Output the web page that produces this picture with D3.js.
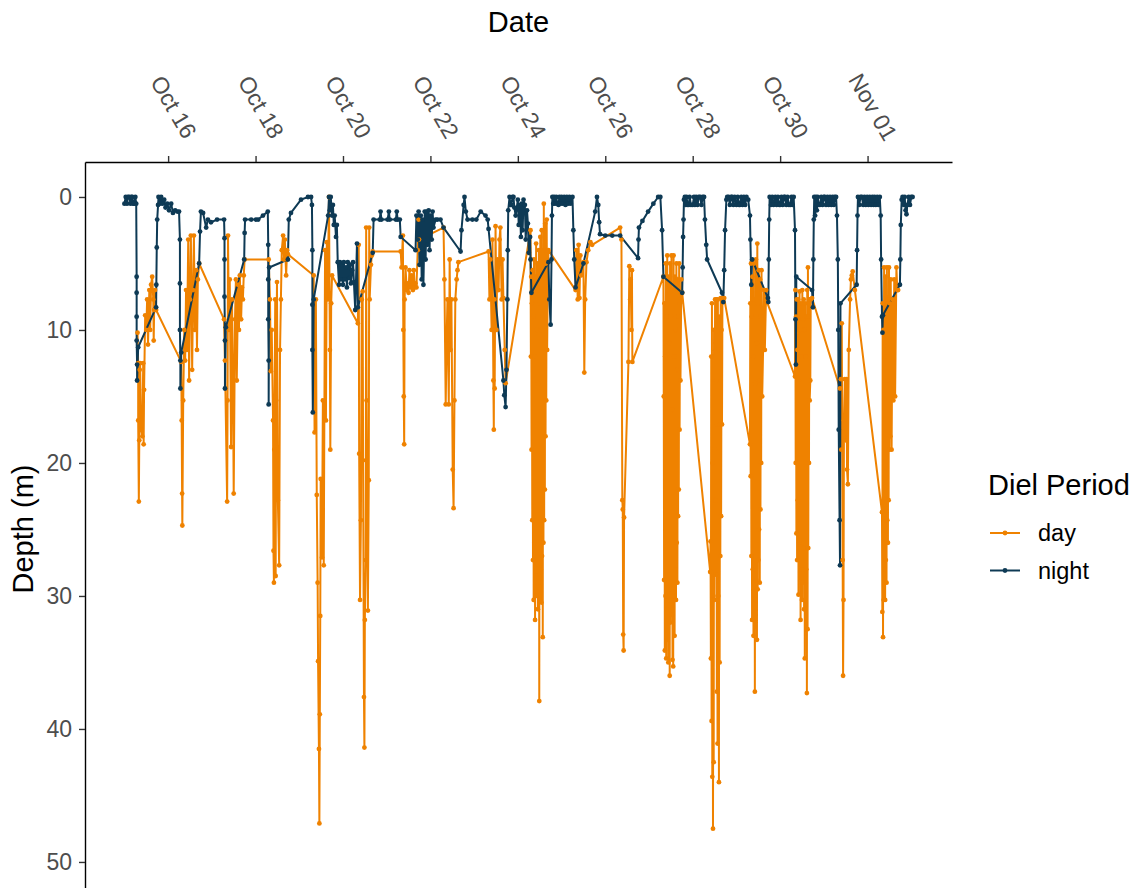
<!DOCTYPE html>
<html>
<head>
<meta charset="utf-8">
<script src="https://cdn.jsdelivr.net/npm/d3@7"></script>
<style>
  body { margin: 0; background: #fff; }
  svg text { font-family: "Liberation Sans", Arial, sans-serif; }
</style>
</head>
<body>
<svg id="chart" width="1147" height="888"></svg>
<script>
// observations: [days elapsed since Oct 15 00:00 UTC, depth in m]
const dayObs = [
  [0.30,10.2],[0.315,12.5],[0.315,16.8],[0.33,22.9],[0.34,18.3],[0.35,13.0],[0.36,12.5],[0.38,17.5],[0.41,18.0],[0.43,12.5],[0.44,18.6],[0.45,14.5],[0.475,8.9],[0.50,10.0],[0.52,7.7],[0.54,11.1],[0.57,7.0],[0.59,10.0],[0.61,6.6],[0.635,6.0],[0.66,7.7],[0.67,10.8],[0.68,8.5],[0.70,7.0],[0.725,8.5],
  [1.30,12.4],[1.31,16.8],[1.32,22.3],[1.325,24.7],[1.345,15.3],[1.37,10.0],[1.39,12.3],[1.41,7.0],[1.43,11.5],[1.46,3.2],[1.48,13.8],[1.50,7.7],[1.52,2.9],[1.55,13.0],[1.57,7.0],[1.59,2.9],[1.61,10.0],[1.64,5.5],[1.66,11.5],[1.68,6.2],[1.71,5.0],
  [2.28,9.2],[2.30,12.3],[2.35,22.9],[2.36,15.3],[2.37,2.9],[2.39,10.0],[2.41,6.2],[2.44,18.8],[2.46,7.7],[2.48,12.3],[2.50,22.3],[2.53,9.2],[2.55,6.2],[2.57,13.8],[2.60,6.6],[2.62,10.0],[2.64,5.9],[2.67,9.2],[2.69,6.8],[2.71,7.7],[2.73,5.9],[2.75,4.7],
  [3.30,4.7],[3.33,7.7],[3.35,13.1],[3.37,10.0],[3.40,16.8],[3.41,26.6],[3.42,29.0],[3.43,19.0],[3.45,7.7],[3.46,28.5],[3.47,15.3],[3.49,6.4],[3.51,22.8],[3.54,27.7],[3.56,11.5],[3.58,7.7],[3.60,4.0],[3.63,2.9],[3.65,4.7],[3.67,3.2],[3.70,5.9],[3.72,4.0],[3.74,4.3],
  [4.33,5.9],[4.35,17.7],[4.38,7.7],[4.40,22.4],[4.42,29.0],[4.43,34.9],[4.45,41.5],[4.46,47.1],[4.47,38.9],[4.48,31.5],[4.49,21.2],[4.52,27.1],[4.54,15.3],[4.56,27.7],[4.59,4.0],[4.61,16.8],[4.63,3.4],[4.65,7.7],[4.68,0.0],[4.70,11.5],[4.71,19.0],[4.73,8.0],[4.75,5.9],
  [5.34,9.5],[5.36,3.6],[5.37,19.3],[5.39,30.3],[5.41,24.3],[5.43,7.7],[5.45,7.1],[5.46,19.8],[5.48,37.6],[5.49,41.4],[5.50,31.8],[5.52,27.3],[5.53,2.3],[5.54,15.3],[5.57,31.1],[5.59,21.3],[5.60,2.3],[5.61,7.7],[5.64,5.1],[5.66,4.4],[5.68,4.1],
  [6.32,4.1],[6.34,5.3],[6.37,2.9],[6.38,10.0],[6.39,15.0],[6.40,18.6],[6.41,7.7],[6.43,5.3],[6.46,7.0],[6.48,6.5],[6.50,7.2],[6.52,5.5],[6.55,6.8],[6.57,5.9],[6.60,7.0],[6.62,5.5],[6.64,6.8],[6.66,6.5],[6.68,6.8],[6.71,4.0],[6.73,1.7],[6.74,3.2],
  [7.30,2.3],[7.32,6.2],[7.35,15.6],[7.37,10.8],[7.39,7.7],[7.42,15.6],[7.44,4.7],[7.46,11.5],[7.48,7.7],[7.51,20.5],[7.53,23.4],[7.55,15.3],[7.57,7.7],[7.60,6.2],[7.62,5.5],[7.64,4.9],
  [8.33,4.1],[8.35,7.7],[8.37,4.7],[8.40,10.0],[8.42,3.2],[8.44,13.8],[8.45,17.5],[8.46,7.7],[8.47,14.4],[8.49,2.2],[8.51,10.0],[8.53,4.7],[8.56,7.0],[8.58,3.2],[8.60,2.3],[8.63,7.7],[8.65,4.7],[8.67,7.6],[8.70,11.5],[8.72,14.0],
  [9.29,2.5],[9.298,12.0],[9.306,6.0],[9.314,19.0],[9.322,8.0],[9.33,24.3],[9.338,5.5],[9.346,27.3],[9.354,9.0],[9.362,30.3],[9.37,4.7],[9.378,26.0],[9.386,12.0],[9.394,31.8],[9.402,6.0],[9.41,28.5],[9.418,3.5],[9.426,30.0],[9.434,10.0],[9.442,27.6],[9.45,5.0],[9.458,31.0],[9.466,14.0],[9.474,29.0],[9.482,4.0],[9.49,37.9],[9.498,8.0],[9.506,30.3],[9.514,3.0],[9.522,28.0],[9.53,10.0],[9.538,30.5],[9.546,2.5],[9.554,27.0],[9.562,9.0],[9.57,33.1],[9.578,4.0],[9.586,26.0],[9.594,0.5],[9.602,24.3],[9.61,7.0],[9.618,22.0],[9.626,2.0],[9.634,18.0],[9.642,5.0],[9.65,15.3],[9.66,1.7],[9.67,11.5],[9.68,7.7],[9.70,4.0],
  [10.32,7.0],[10.34,4.0],[10.37,7.7],[10.39,3.6],[10.41,7.6],[10.43,4.4],[10.45,5.9],[10.50,4.9],[10.52,13.2],[10.54,7.7],[10.57,4.9],[10.61,4.0],[10.66,3.4],[10.70,3.6],
  [11.34,2.3],[11.37,3.2],[11.39,22.8],[11.40,23.5],[11.41,32.9],[11.42,34.1],[11.43,24.1],[11.53,12.4],[11.55,5.2],[11.57,7.7],[11.58,6.2],[11.60,10.0],[11.61,5.5],[11.62,12.4],
  [12.33,6.0],[12.338,15.0],[12.346,28.8],[12.354,8.0],[12.362,34.1],[12.37,12.0],[12.378,30.0],[12.386,5.0],[12.394,34.7],[12.402,9.0],[12.41,31.0],[12.418,4.4],[12.426,33.3],[12.434,14.0],[12.442,35.0],[12.45,6.0],[12.458,30.3],[12.466,11.0],[12.474,36.0],[12.482,5.0],[12.49,32.0],[12.498,9.0],[12.506,29.5],[12.514,4.4],[12.522,31.4],[12.53,16.0],[12.538,34.8],[12.546,7.0],[12.554,35.3],[12.562,4.4],[12.57,30.0],[12.578,12.0],[12.586,33.0],[12.594,6.0],[12.602,28.0],[12.61,10.0],[12.618,30.3],[12.626,5.0],[12.634,26.0],[12.642,13.0],[12.65,29.0],[12.658,6.2],[12.666,24.0],[12.674,9.0],[12.682,22.0],[12.69,5.0],[12.70,17.5],[12.71,8.0],[12.72,13.8],[12.74,6.2],[12.76,7.2],
  [13.40,28.2],[13.408,25.9],[13.416,34.7],[13.424,12.0],[13.432,39.4],[13.44,8.0],[13.448,43.6],[13.456,20.0],[13.464,47.5],[13.472,30.0],[13.48,42.5],[13.488,10.0],[13.496,30.3],[13.504,19.0],[13.512,7.7],[13.52,22.8],[13.528,28.4],[13.536,13.8],[13.544,7.7],[13.552,37.2],[13.56,17.1],[13.568,41.1],[13.576,7.7],[13.584,30.0],[13.592,11.5],[13.60,44.0],[13.608,9.0],[13.616,35.0],[13.624,17.1],[13.632,27.0],[13.64,7.6],[13.65,24.0],[13.66,10.0],[13.67,17.1],[13.68,7.6],[13.72,7.6],
  [14.31,18.6],[14.318,8.0],[14.326,21.0],[14.334,5.0],[14.342,27.0],[14.35,9.0],[14.358,31.8],[14.366,6.0],[14.374,28.0],[14.382,12.0],[14.39,33.0],[14.398,5.0],[14.406,30.0],[14.414,8.0],[14.422,37.2],[14.43,14.0],[14.438,30.3],[14.446,4.7],[14.454,28.8],[14.462,11.0],[14.47,33.3],[14.478,3.5],[14.486,29.5],[14.494,8.0],[14.502,27.3],[14.51,5.5],[14.518,25.0],[14.526,13.8],[14.534,29.0],[14.542,6.2],[14.55,23.5],[14.558,9.0],[14.566,20.0],[14.574,5.5],[14.59,15.0],[14.61,11.5],[14.63,7.0],[14.65,11.5],[14.68,7.0],[14.70,7.9],
  [15.34,13.5],[15.348,7.0],[15.356,20.0],[15.364,9.0],[15.372,25.3],[15.38,7.7],[15.388,27.3],[15.396,11.5],[15.404,22.8],[15.412,7.7],[15.42,29.9],[15.428,13.8],[15.436,26.0],[15.444,7.1],[15.452,25.8],[15.46,10.0],[15.468,31.8],[15.476,8.0],[15.484,28.0],[15.492,12.0],[15.50,30.3],[15.508,7.0],[15.516,29.0],[15.524,9.2],[15.532,26.4],[15.54,7.7],[15.548,31.0],[15.556,10.0],[15.564,34.7],[15.572,8.0],[15.58,30.3],[15.588,12.0],[15.596,28.0],[15.604,9.0],[15.612,37.3],[15.62,7.0],[15.628,32.5],[15.636,5.3],[15.644,26.4],[15.652,9.0],[15.66,20.0],[15.668,7.7],[15.676,15.3],[15.69,13.8],[15.70,7.7],[15.73,7.6],
  [16.37,14.4],[16.39,13.7],[16.40,19.0],[16.41,9.5],[16.43,27.3],[16.44,36.0],[16.45,30.3],[16.46,16.8],[16.48,13.7],[16.50,18.3],[16.52,13.7],[16.53,20.5],[16.55,21.6],[16.57,11.5],[16.60,7.7],[16.62,6.2],[16.64,5.9],[16.66,5.6],[16.71,7.0],
  [17.33,23.7],[17.338,31.2],[17.346,8.0],[17.354,33.1],[17.362,10.0],[17.37,30.3],[17.378,5.3],[17.386,28.0],[17.394,12.0],[17.402,30.3],[17.41,6.0],[17.418,27.3],[17.426,9.0],[17.434,29.0],[17.442,5.3],[17.45,24.3],[17.458,13.8],[17.466,26.0],[17.474,7.7],[17.482,22.8],[17.49,5.3],[17.50,19.0],[17.51,8.0],[17.52,18.0],[17.53,6.2],[17.55,19.0],[17.57,7.7],[17.59,15.3],[17.61,6.2],[17.63,15.0],[17.66,5.3],[17.68,7.0],[17.70,7.0]
];

const nightObs = [
  [0.00,0.5],[0.03,0.0],[0.06,0.5],[0.08,0.0],[0.11,0.0],[0.14,0.5],[0.16,0.0],[0.18,0.0],[0.20,0.5],[0.22,0.5],[0.25,0.0],[0.27,0.5],[0.28,6.0],[0.28,7.2],[0.28,9.0],[0.28,10.8],[0.29,12.6],[0.29,13.8],[0.315,11.3],
  [0.725,8.3],[0.73,6.6],[0.74,3.8],[0.75,1.7],[0.77,0.6],[0.78,0.0],[0.81,0.5],[0.84,0.0],[0.87,0.5],[0.91,0.2],[0.94,0.8],[0.98,0.5],
  [1.02,1.0],[1.07,0.5],[1.11,1.2],[1.16,1.0],[1.21,1.1],[1.25,1.1],[1.27,3.2],[1.27,6.5],[1.27,10.0],[1.28,12.3],[1.28,14.4],[1.30,11.7],
  [1.71,5.0],[1.73,2.6],[1.75,1.1],[1.80,1.2],[1.87,2.3],[1.91,1.7],[1.98,1.9],
  [2.12,1.7],[2.28,1.7],[2.29,3.1],[2.29,4.7],[2.29,7.5],[2.30,10.8],[2.30,14.4],[2.32,9.8],
  [2.74,4.7],[2.75,2.7],[2.76,1.7],[2.90,1.7],[3.01,1.7],
  [3.06,1.7],[3.17,1.4],[3.28,1.1],[3.29,3.6],[3.29,6.2],[3.29,9.2],[3.30,12.3],[3.30,15.6],[3.31,5.3],
  [3.74,4.7],[3.76,1.7],[3.81,1.2],[4.04,0.2],[4.20,0.0],
  [4.27,0.0],[4.29,0.6],[4.30,4.0],[4.30,8.1],[4.30,11.5],[4.31,16.2],[4.33,7.7],
  [4.66,1.4],[4.68,0.0],[4.70,1.0],[4.72,0.0],[4.75,1.4],[4.77,0.6],[4.79,2.1],[4.81,1.4],[4.84,3.0],[4.86,2.1],[4.88,4.9],[4.91,6.6],[4.93,4.9],[4.95,6.2],[4.97,5.1],
  [5.00,6.6],[5.02,4.9],[5.04,6.2],[5.07,5.3],[5.09,6.8],[5.11,4.9],[5.14,6.1],[5.16,5.1],[5.18,6.5],[5.21,5.5],[5.23,4.9],[5.25,6.4],[5.28,8.5],[5.32,3.5],[5.34,8.3],
  [5.68,4.2],[5.70,1.7],[5.84,1.7],[5.86,1.1],[5.88,1.7],[6.02,1.7],[6.05,1.1],[6.07,1.7],[6.21,1.7],[6.23,1.1],[6.25,1.7],[6.30,1.7],[6.32,3.0],
  [6.66,4.0],[6.68,1.4],[6.71,3.2],[6.73,1.1],[6.75,5.1],[6.78,1.4],[6.80,6.2],[6.82,1.7],[6.84,6.6],[6.87,1.1],[6.89,4.7],[6.91,1.1],[6.93,3.6],[6.96,1.0],[6.98,4.0],
  [7.00,1.4],[7.03,3.2],[7.05,1.1],[7.07,2.3],[7.12,1.7],[7.16,1.7],[7.23,1.7],[7.30,2.3],
  [7.69,4.1],[7.71,2.5],[7.76,0.6],[7.78,0.0],[7.81,1.1],[7.85,1.7],[7.96,1.7],
  [8.05,1.7],[8.15,1.1],[8.26,1.4],[8.31,1.7],[8.33,2.4],
  [8.67,13.8],[8.69,14.9],[8.72,15.8],[8.74,13.0],[8.76,7.7],[8.77,4.0],[8.78,1.0],[8.81,0.0],[8.83,0.6],[8.85,0.6],[8.88,0.0],[8.90,0.0],[8.92,0.8],[8.95,1.4],
  [9.00,0.2],[9.02,2.1],[9.05,0.6],[9.07,3.0],[9.09,0.5],[9.11,2.5],[9.13,0.2],[9.16,0.6],[9.18,3.2],[9.21,1.0],[9.23,2.0],[9.25,4.2],[9.28,3.0],[9.29,4.7],[9.31,7.2],
  [9.70,4.9],[9.72,7.7],[9.75,9.6],[9.77,4.7],[9.78,1.4],[9.79,0.0],[9.81,0.5],[9.83,0.0],[9.85,0.5],[9.88,0.0],[9.90,0.5],[9.93,0.6],[9.95,0.0],[9.98,0.5],
  [10.00,0.0],[10.03,0.5],[10.06,0.0],[10.09,0.6],[10.12,0.0],[10.15,0.5],[10.18,0.0],[10.21,0.5],[10.25,0.0],[10.27,2.5],[10.29,4.7],[10.32,6.8],
  [10.50,5.0],[10.77,1.1],[10.81,0.0],[10.84,0.6],[10.86,1.9],[10.88,2.8],
  [11.00,2.9],[11.16,2.9],[11.34,2.9],
  [11.75,4.6],[11.76,3.2],[11.77,2.3],[11.85,1.8],[11.98,1.1],
  [12.10,0.5],[12.21,0.0],[12.26,0.0],[12.30,2.5],[12.33,6.0],
  [12.76,7.2],[12.77,5.3],[12.78,3.0],[12.79,1.7],[12.80,0.2],[12.82,0.0],[12.84,0.6],[12.86,0.0],[12.88,0.6],[12.91,0.6],[12.93,0.0],[12.96,0.6],
  [13.00,0.6],[13.03,0.0],[13.05,0.6],[13.08,0.0],[13.11,0.6],[13.14,0.0],[13.17,0.0],[13.20,0.6],[13.23,0.0],[13.26,0.0],[13.28,1.7],[13.31,3.6],[13.33,4.7],
  [13.67,7.2],[13.70,7.9],[13.72,5.5],[13.74,2.5],[13.77,0.2],[13.79,0.0],[13.82,0.0],[13.85,0.6],[13.88,0.0],[13.90,0.0],[13.93,0.6],[13.96,0.0],
  [14.00,0.6],[14.03,0.0],[14.06,0.6],[14.08,0.6],[14.11,0.0],[14.14,0.6],[14.17,0.0],[14.20,0.6],[14.23,0.0],[14.27,0.2],[14.31,1.4],[14.32,3.2],[14.34,6.6],[14.36,4.7],
  [14.72,7.6],[14.73,7.9],[14.74,4.7],[14.75,1.7],[14.76,0.0],[14.79,0.6],[14.82,0.0],[14.85,0.6],[14.89,0.0],[14.92,0.6],[14.95,0.0],[14.98,0.6],
  [15.00,0.6],[15.03,0.0],[15.06,0.6],[15.09,0.0],[15.11,0.0],[15.14,0.6],[15.17,0.0],[15.20,0.6],[15.23,0.6],[15.26,0.0],[15.28,0.6],[15.31,0.0],[15.34,2.5],[15.35,9.2],[15.36,12.6],[15.37,6.0],
  [15.73,7.0],[15.75,8.3],[15.76,4.7],[15.77,1.7],[15.78,0.0],[15.80,1.4],[15.82,0.0],[15.84,1.0],[15.86,0.0],[15.88,0.6],[15.91,0.6],[15.94,0.0],[15.97,0.6],
  [16.00,0.0],[16.02,0.0],[16.05,0.6],[16.08,0.0],[16.11,0.6],[16.14,0.0],[16.17,0.6],[16.20,0.0],[16.23,0.6],[16.25,0.0],[16.28,0.0],[16.30,1.4],[16.32,4.7],[16.33,10.0],[16.34,17.5],[16.36,24.3],[16.37,27.7],[16.38,8.0],
  [16.75,6.6],[16.76,4.0],[16.77,1.4],[16.78,0.0],[16.81,0.6],[16.84,0.0],[16.87,0.0],[16.90,0.6],[16.93,0.0],[16.96,0.6],[16.99,0.0],
  [17.02,0.6],[17.05,0.0],[17.08,0.6],[17.11,0.0],[17.14,0.6],[17.16,0.0],[17.19,0.6],[17.22,0.0],[17.25,0.6],[17.28,0.0],[17.30,1.4],[17.31,4.7],[17.33,9.0],[17.34,10.2],[17.35,8.9],
  [17.74,6.6],[17.75,4.7],[17.76,2.1],[17.78,0.2],[17.80,0.0],[17.83,0.6],[17.85,0.0],[17.87,1.0],[17.89,1.3],[17.91,0.6],[17.94,0.0],[17.97,0.6],[18.00,0.0],[18.03,0.0]
];

const periodNames = ["day", "night"];
const periodColors = ["#ef8200", "#0e3a55"];
const depthTicks = [0, 10, 20, 30, 40, 50];
const depthLimits = [-2.63, 52.56];

const startMs = Date.UTC(2023, 9, 15);
const toDate = t => new Date(startMs + t * 864e5);

// panel box
let panel = {left: 85, right: 952, top: 162, bottom: 896};

let svg = d3.select("#chart");

// x scale with ggplot style 5% expansion
let allT = dayObs.concat(nightObs).map(d => d[0]);
let tExt = d3.extent(allT);
let pad = (tExt[1] - tExt[0]) * 0.05;
let x = d3.scaleUtc()
  .domain([toDate(tExt[0] - pad), toDate(tExt[1] + pad)])
  .range([panel.left, panel.right]);

let y = d3.scaleLinear()
  .domain(depthLimits)
  .range([panel.top, panel.bottom]);

let line = d3.line()
  .x(d => x(toDate(d[0])))
  .y(d => y(d[1]));

let series = [dayObs, nightObs];

// lines first, then points (same order as the layers)
series.forEach((obs, i) => {
  svg.append("path")
    .datum(obs)
    .attr("fill", "none")
    .attr("stroke", periodColors[i])
    .attr("stroke-width", 2)
    .attr("stroke-linejoin", "round")
    .attr("d", line);
});
series.forEach((obs, i) => {
  svg.append("g")
    .selectAll("circle")
    .data(obs)
    .enter()
    .append("circle")
    .attr("cx", d => x(toDate(d[0])))
    .attr("cy", d => y(d[1]))
    .attr("r", 2.4)
    .attr("fill", periodColors[i]);
});

// top date axis
let tickDates = d3.utcDay.range(toDate(1), x.domain()[1], 2);
let xAxis = svg.append("g")
  .attr("transform", "translate(0," + panel.top + ")")
  .call(d3.axisTop(x).tickValues(tickDates).tickFormat(d3.utcFormat("%b %d")).tickSizeInner(6).tickSizeOuter(0));
xAxis.select(".domain").attr("stroke", "#000").attr("stroke-width", 1.4);
xAxis.selectAll(".tick line").attr("stroke", "#333").attr("stroke-width", 1.4);
xAxis.selectAll(".tick text")
  .attr("y", 0)
  .attr("dy", "0.35em")
  .attr("transform", "translate(5,-55) rotate(60)")
  .style("text-anchor", "middle")
  .style("font-size", "23px")
  .attr("fill", "#4d4d4d");

// left depth axis
let yAxis = svg.append("g")
  .attr("transform", "translate(" + panel.left + ",0)")
  .call(d3.axisLeft(y).tickValues(depthTicks).tickSizeInner(6).tickSizeOuter(0).tickPadding(7));
yAxis.select(".domain").attr("stroke", "#000").attr("stroke-width", 1.4);
yAxis.selectAll(".tick line").attr("stroke", "#333").attr("stroke-width", 1.4);
yAxis.selectAll(".tick text")
  .style("font-size", "23px")
  .attr("fill", "#4d4d4d");

// axis titles
svg.append("text")
  .attr("x", (panel.left + panel.right) / 2)
  .attr("y", 32)
  .style("text-anchor", "middle")
  .style("font-size", "29px")
  .attr("fill", "#000")
  .text("Date");

svg.append("text")
  .attr("transform", "translate(33," + (panel.top + panel.bottom) / 2 + ") rotate(-90)")
  .style("text-anchor", "middle")
  .style("font-size", "29px")
  .attr("fill", "#000")
  .text("Depth (m)");

// legend
let legend = svg.append("g").attr("transform", "translate(988,0)");
legend.append("text")
  .attr("x", 0)
  .attr("y", 495)
  .style("font-size", "29px")
  .attr("fill", "#000")
  .text("Diel Period");

periodNames.forEach((name, i) => {
  let ky = 533 + i * 37.5;
  legend.append("line")
    .attr("x1", 2).attr("x2", 32)
    .attr("y1", ky).attr("y2", ky)
    .attr("stroke", periodColors[i])
    .attr("stroke-width", 2);
  legend.append("circle")
    .attr("cx", 17).attr("cy", ky)
    .attr("r", 2.4)
    .attr("fill", periodColors[i]);
  legend.append("text")
    .attr("x", 50)
    .attr("y", ky)
    .attr("dy", "0.35em")
    .style("font-size", "23.5px")
    .attr("fill", "#000")
    .text(name);
});
</script>
</body>
</html>
